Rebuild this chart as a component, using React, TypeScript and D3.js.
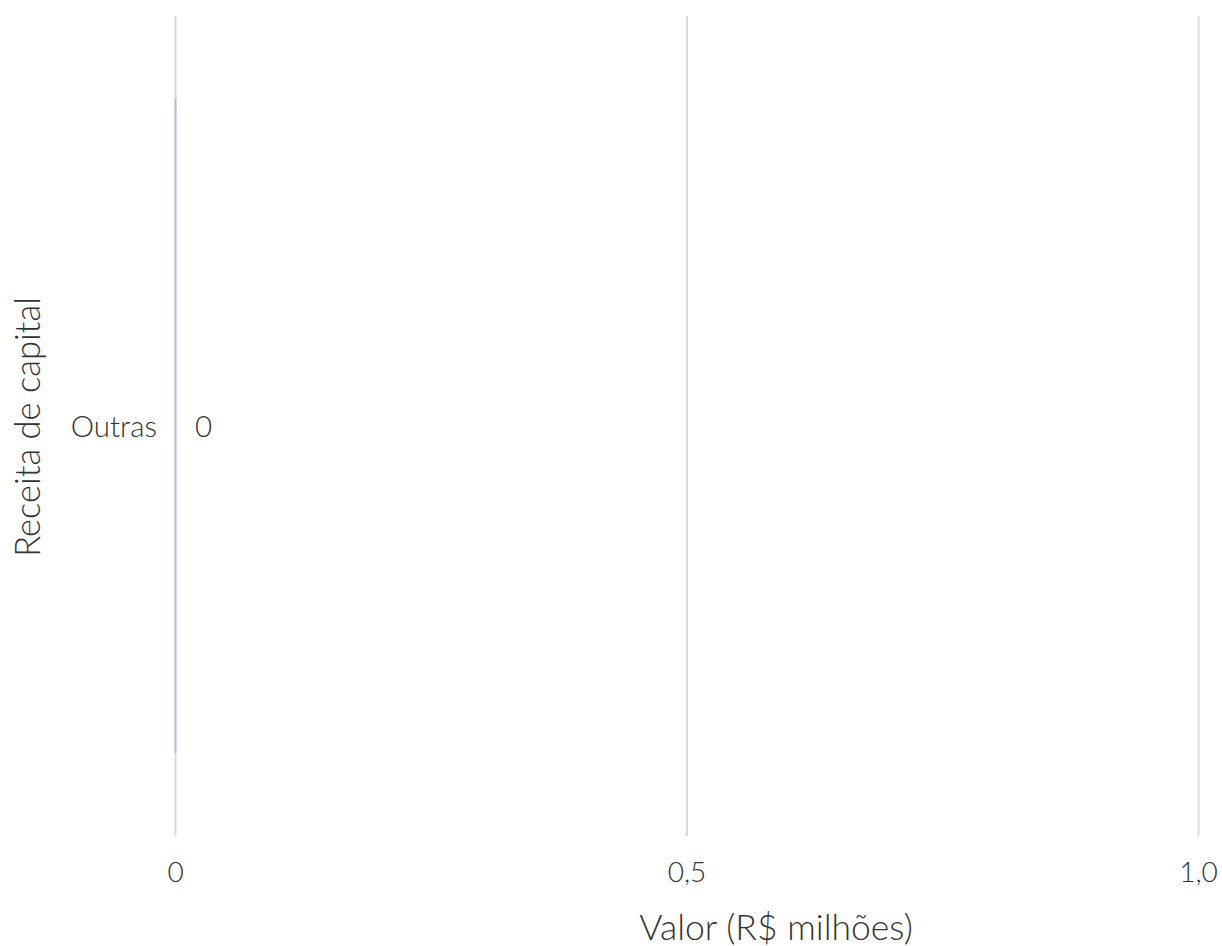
import React from "react";
import * as d3 from "d3";

const categories: string[] = ["Outras"];
const values: number[] = [0];
const xTicks: number[] = [0, 0.5, 1.0];
const xTickLabels: string[] = ["0", "0,5", "1,0"];
const yTitle = "Receita de capital";
const xTitle = "Valor (R$ milhões)";

const W = 1222;
const H = 946;
const FONT = "'Lato Light', Lato, sans-serif";

export default function App() {
  const left = 175.5;
  const right = 1198.5;
  const top = 16;
  const bottom = 836;

  const x = d3.scaleLinear().domain([0, 1]).range([left, right]);
  const y = d3
    .scaleBand<string>()
    .domain(categories)
    .range([top, bottom])
    .paddingInner(0.1127)
    .paddingOuter(0.1127);

  const fmt = (v: number) => (v === 0 ? "0" : d3.format(",.0f")(v).replace(".", ","));

  return (
    <svg
      width={W}
      height={H}
      style={{ position: "absolute", left: 0, top: 0, fontFamily: FONT, fontWeight: 300 }}
    >
      {xTicks.map((t, i) => (
        <g key={i}>
          <line x1={x(t)} x2={x(t)} y1={top} y2={bottom} stroke="#dadada" strokeWidth={2} />
          <text x={x(t)} y={882} textAnchor="middle" fontSize={28} fill="#333">
            {xTickLabels[i]}
          </text>
        </g>
      ))}
      {categories.map((c, i) => {
        const y0 = y(c) as number;
        const bw = y.bandwidth();
        const w = Math.max(0, x(values[i]) - x(0));
        return (
          <g key={c}>
            <rect x={x(0) - 1} y={y0} width={w + 2} height={bw} fill="#c4b8d6" />
            <text x={157} y={y0 + bw / 2} dy="0.36em" textAnchor="end" fontSize={29.5} fill="#333">
              {c}
            </text>
            <text x={x(values[i]) + 28} y={y0 + bw / 2} dy="0.36em" textAnchor="middle" fontSize={29.5} fill="#333">
              {fmt(values[i])}
            </text>
          </g>
        );
      })}
      <text x={776} y={940} textAnchor="middle" fontSize={35.5} fill="#333">
        {xTitle}
      </text>
      <text
        transform={`translate(40,${427}) rotate(-90)`}
        textAnchor="middle"
        fontSize={34.5}
        fill="#333"
      >
        {yTitle}
      </text>
    </svg>
  );
}
